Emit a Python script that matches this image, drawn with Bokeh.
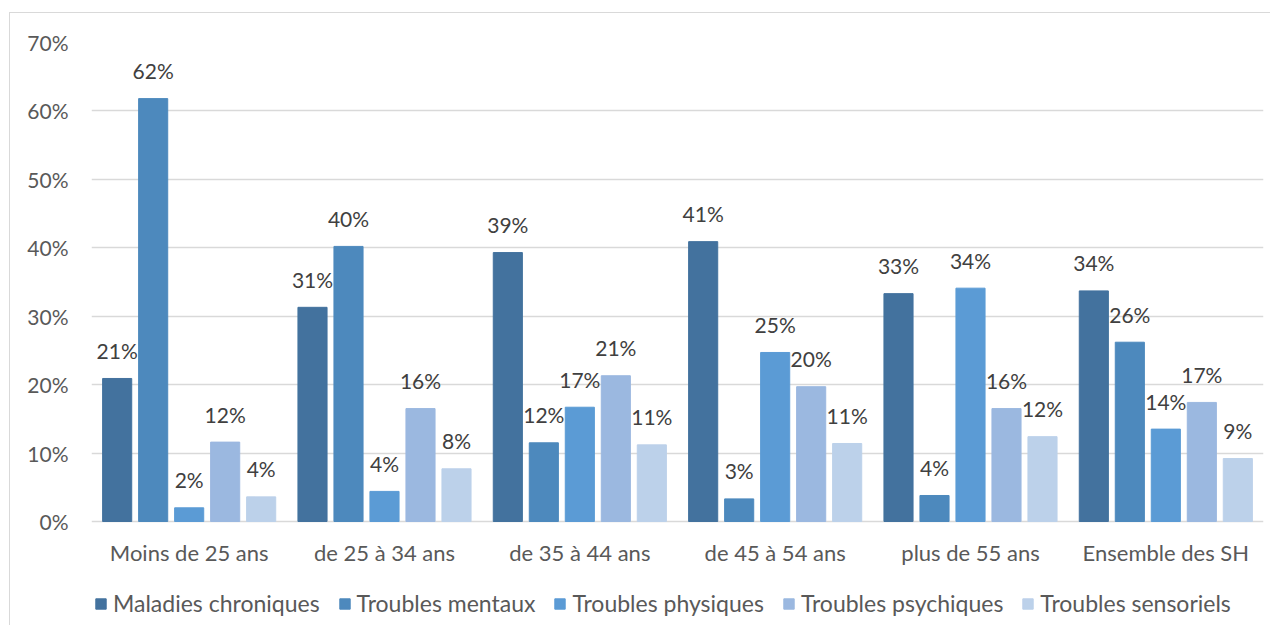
from bokeh.plotting import figure
from bokeh.models import (FactorRange, ColumnDataSource, Legend, LegendItem,
                          PrintfTickFormatter, FixedTicker, Range1d)
from bokeh.transform import dodge
from bokeh.core.properties import value
from bokeh.embed import file_html
from bokeh.resources import INLINE

categories = ["Moins de 25 ans", "de 25 à 34 ans", "de 35 à 44 ans",
              "de 45 à 54 ans", "plus de 55 ans", "Ensemble des SH"]
series_names = ["Maladies chroniques", "Troubles mentaux", "Troubles physiques",
                "Troubles psychiques", "Troubles sensoriels"]
maladies_chroniques = [20.9, 31.3, 39.3, 40.9, 33.3, 33.7]
troubles_mentaux = [61.8, 40.2, 11.5, 3.3, 3.8, 26.2]
troubles_physiques = [2.0, 4.4, 16.7, 24.7, 34.1, 13.5]
troubles_psychiques = [11.6, 16.5, 21.3, 19.7, 16.5, 17.4]
troubles_sensoriels = [3.6, 7.7, 11.2, 11.4, 12.4, 9.2]
y_ticks = [0, 10, 20, 30, 40, 50, 60, 70]

series_values = [maladies_chroniques, troubles_mentaux, troubles_physiques,
                 troubles_psychiques, troubles_sensoriels]
colors = ["#43729E", "#4D89BD", "#5B9BD5", "#9BB8E0", "#BCD1EA"]

FONT = "Lato"

# frame spans 0..70 on 479px; extended below 0 to hold category labels & legend
Y_MIN = 70 - 584 * 70 / 479.0

p = figure(x_range=FactorRange(*categories, range_padding=0),
           y_range=Range1d(Y_MIN, 70),
           width=1261, height=613,
           output_backend="svg", toolbar_location=None,
           x_axis_location=None,
           min_border_left=81, min_border_right=8,
           min_border_top=29, min_border_bottom=0)
p.margin = (12, 0, 0, 9)
p.styles = {"border-top": "1px solid #d9d9d9", "border-left": "1px solid #d9d9d9"}
p.outline_line_color = None
p.background_fill_color = "white"
p.border_fill_color = "white"

p.xgrid.grid_line_color = None
p.ygrid.grid_line_color = "#d9d9d9"
p.ygrid.grid_line_width = 1.3
p.yaxis.ticker = FixedTicker(ticks=y_ticks)
p.yaxis.formatter = PrintfTickFormatter(format="%d%%")
p.yaxis.major_tick_line_color = None
p.yaxis.minor_tick_line_color = None
p.yaxis.major_tick_out = 0
p.yaxis.minor_tick_out = 0
p.yaxis.axis_line_color = None
p.yaxis.major_label_text_font = FONT
p.yaxis.major_label_text_font_size = "21px"
p.yaxis.major_label_text_color = "#595959"
p.yaxis.major_label_standoff = 23

# category labels under the zero line
cat_src = ColumnDataSource(dict(cat=categories, y=[0] * len(categories)))
p.text(x="cat", y="y", text="cat", source=cat_src,
       text_font=value(FONT), text_font_size="22px", text_color="#595959",
       text_align="center", text_baseline="middle", y_offset=31)

step = 0.1843
bar_w = 0.149
items = []
for i, (name, vals, col) in enumerate(zip(series_names, series_values, colors)):
    off = (i - 2) * step
    src = ColumnDataSource(dict(cat=categories, val=vals,
                                lab=[f"{v:.0f}%" for v in vals]))
    r = p.vbar(x=dodge("cat", off, range=p.x_range), top="val", width=bar_w,
               source=src, fill_color=col, line_color=col)
    p.text(x=dodge("cat", off, range=p.x_range), y="val", text="lab", source=src,
           text_font=value(FONT), text_font_size="21px", text_color="#404040",
           text_align="center", text_baseline="middle", y_offset=-28)
    items.append(LegendItem(label=name, renderers=[r]))

legend = Legend(items=items, orientation="horizontal", location=(3, 9),
                glyph_width=13, glyph_height=13, label_standoff=6, spacing=18,
                label_text_font=FONT, label_text_font_size="23px",
                label_text_color="#595959", border_line_color=None,
                background_fill_alpha=0, padding=0, margin=0)
p.add_layout(legend, "center")

open("out.html", "w").write(file_html(p, INLINE))
